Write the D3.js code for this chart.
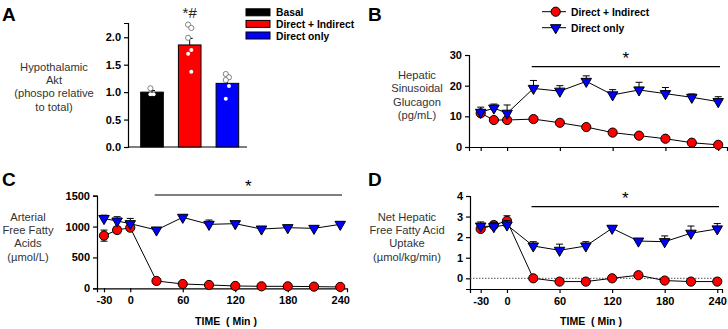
<!DOCTYPE html>
<html lang="en">
<head>
<meta charset="UTF-8">
<title>Hypothalamic Akt and hepatic FFA</title>
<script src="https://d3js.org/d3.v7.min.js"></script>
<style>
  body { margin: 0; background: #fff; }
  svg { display: block; font-family: "Liberation Sans", Arial, sans-serif; }
  .tick text { font-weight: bold; font-size: 11px; fill: #000; }
  .ylab { font-size: 11.2px; fill: #333; }
  .panel { font-weight: bold; font-size: 19px; }
</style>
</head>
<body>
<svg width="728" height="329"></svg>
<script>
// ---- data ----
const times = [-30, -15, 0, 30, 60, 90, 120, 150, 180, 210, 240];
const xTicks = [-30, 0, 60, 120, 180, 240];

// A: hypothalamic Akt
const groups = ["Basal", "Direct + Indirect", "Direct only"];
const groupColors = ["#000000", "#ff0000", "#0000ff"];
const aktMean = [1.0, 1.86, 1.16];
const aktSem = [0.03, 0.12, 0.08];
const aktPoints = [
  [1.07, 0.96, 0.96],
  [2.23, 2.17, 1.99, 1.77, 1.70, 1.37],
  [1.33, 1.27, 1.22, 1.11, 0.88]
];

// B: hepatic sinusoidal glucagon (pg/mL)
const glucRed = [11.0, 8.8, 8.8, 9.1, 7.9, 6.5, 4.7, 3.7, 2.7, 1.4, 0.7];
const glucRedSem = [1.0, 0.8, 0.8, 0.6, 0.5, 0.5, 0.6, 0.5, 0.5, 0.4, 0.3];
const glucBlue = [11.3, 12.7, 11.0, 19.1, 18.2, 21.4, 17.0, 18.6, 17.4, 16.2, 14.8];
const glucBlueSem = [1.7, 1.3, 2.7, 2.6, 1.8, 1.8, 1.7, 2.5, 2.0, 1.1, 1.6];

// C: arterial FFA (umol/L)
const ffaRed = [853, 944, 982, 119, 70, 54, 38, 32, 32, 27, 22];
const ffaRedSem = [90, 50, 45, 20, 12, 10, 8, 8, 8, 6, 6];
const ffaBlue = [1130, 1090, 1047, 944, 1150, 1036, 1047, 960, 982, 971, 1036];
const ffaBlueSem = [55, 70, 85, 35, 30, 70, 35, 30, 30, 25, 30];

// D: net hepatic FFA uptake (umol/kg/min)
const uptRed = [2.40, 2.59, 2.79, 0.0, -0.16, -0.16, 0.0, 0.15, -0.11, -0.16, -0.16];
const uptRedSem = [0.1, 0.15, 0.25, 0.05, 0.05, 0.05, 0.05, 0.06, 0.05, 0.05, 0.05];
const uptBlue = [2.54, 2.51, 2.59, 1.57, 1.36, 1.57, 2.43, 1.81, 1.78, 2.19, 2.40];
const uptBlueSem = [0.2, 0.21, 0.22, 0.21, 0.3, 0.21, 0.1, 0.1, 0.28, 0.35, 0.26];

const svg = d3.select("svg");
const intFmt = d => String(d); // plain hyphen for negatives

function drawAxes(g, x, y, yTicks, yFmt, showXLabels) {
  const xa = g.append("g").attr("transform", `translate(0,${y.range()[0]})`)
    .call(d3.axisBottom(x).tickValues(xTicks).tickSize(4).tickPadding(4)
      .tickFormat(showXLabels ? intFmt : ""));
  const ya = g.append("g").attr("transform", `translate(${x.range()[0]},0)`)
    .call(d3.axisLeft(y).tickValues(yTicks).tickSize(4).tickPadding(3).tickFormat(yFmt));
  [xa, ya].forEach(a => {
    a.select(".domain").attr("stroke", "#000").attr("stroke-width", 1.2);
    a.selectAll(".tick line").attr("stroke", "#000").attr("stroke-width", 1.2);
  });
}

function ylabel(lines, cx, cy) {
  const t = svg.append("text").attr("class", "ylab").attr("text-anchor", "middle");
  lines.forEach((s, i) => {
    t.append("tspan").attr("x", cx).attr("y", cy + i * 13.4).text(s);
  });
}

function series(g, x, y, vals, sems, kind, errBoth) {
  // error bars
  const eb = g.append("g").attr("stroke", "#000").attr("stroke-width", 1);
  times.forEach((t, i) => {
    const top = y(vals[i] + sems[i]);
    const bot = errBoth ? y(vals[i] - sems[i]) : y(vals[i]);
    eb.append("line").attr("x1", x(t)).attr("x2", x(t)).attr("y1", top).attr("y2", bot);
    eb.append("line").attr("x1", x(t) - 3.5).attr("x2", x(t) + 3.5).attr("y1", top).attr("y2", top);
    if (errBoth) eb.append("line").attr("x1", x(t) - 3.5).attr("x2", x(t) + 3.5).attr("y1", bot).attr("y2", bot);
  });
  g.append("path")
    .attr("d", d3.line().x((d, i) => x(times[i])).y(d => y(d))(vals))
    .attr("fill", "none").attr("stroke", "#000").attr("stroke-width", 1);
  if (kind === "circle") {
    g.selectAll(null).data(vals).join("circle")
      .attr("cx", (d, i) => x(times[i])).attr("cy", d => y(d)).attr("r", 4.6)
      .attr("fill", "#ff0000").attr("stroke", "#000").attr("stroke-width", 1);
  } else {
    const tri = d3.symbol().type(d3.symbolTriangle).size(48);
    g.selectAll(null).data(vals).join("path")
      .attr("d", tri)
      .attr("transform", (d, i) => `translate(${x(times[i])},${y(d)}) rotate(180)`)
      .attr("fill", "#0000ff").attr("stroke", "#000").attr("stroke-width", 1);
  }
}

function sigBar(g, x, yPix) {
  g.append("line").attr("x1", x(28)).attr("x2", x(242)).attr("y1", yPix).attr("y2", yPix)
    .attr("stroke", "#000").attr("stroke-width", 1.2);
  g.append("text").attr("x", (x(28) + x(242)) / 2).attr("y", yPix - 3)
    .attr("text-anchor", "middle").attr("font-size", 17).text("*");
}

// ---- Panel A ----
{
  const g = svg.append("g");
  const y = d3.scaleLinear().domain([0, 2.26]).range([147, 23]);
  const x = d3.scaleBand().domain(groups).range([128, 251.4]).paddingInner(0.4).paddingOuter(0.337);
  const ya = g.append("g").attr("transform", "translate(128,0)")
    .call(d3.axisLeft(y).tickValues([0, 0.5, 1, 1.5, 2]).tickSize(4).tickPadding(3).tickFormat(d3.format(".1f")));
  ya.select(".domain").attr("stroke", "#000").attr("stroke-width", 1.2);
  ya.selectAll(".tick line").attr("stroke", "#000").attr("stroke-width", 1.2);
  g.append("line").attr("x1", 128).attr("x2", 247).attr("y1", 147).attr("y2", 147)
    .attr("stroke", "#000").attr("stroke-width", 1.2);
  groups.forEach((k, i) => {
    const cx = x(k) + x.bandwidth() / 2;
    g.append("line").attr("x1", cx).attr("x2", cx).attr("y1", y(aktMean[i])).attr("y2", y(aktMean[i] + aktSem[i]))
      .attr("stroke", "#000");
    g.append("line").attr("x1", cx - 3).attr("x2", cx + 3)
      .attr("y1", y(aktMean[i] + aktSem[i])).attr("y2", y(aktMean[i] + aktSem[i])).attr("stroke", "#000");
    g.append("rect").attr("x", x(k)).attr("width", x.bandwidth())
      .attr("y", y(aktMean[i])).attr("height", y(0) - y(aktMean[i]))
      .attr("fill", groupColors[i]).attr("stroke", "#000").attr("stroke-width", 1);
    aktPoints[i].forEach((v, j) => {
      const above = v > aktMean[i];
      const off = (j % 2 === 0 ? -1.6 : 1.6);
      g.append("circle").attr("cx", cx + off).attr("cy", y(v)).attr("r", above ? 2.6 : 2)
        .attr("fill", "#fff").attr("stroke", above ? "#666" : "none").attr("stroke-width", 0.8);
    });
  });
  g.append("text").attr("x", x(groups[1]) + x.bandwidth() / 2).attr("y", 18)
    .attr("text-anchor", "middle").attr("font-size", 15).attr("fill", "#222").text("*#");
  // legend
  groups.forEach((k, i) => {
    const ly = 12.3 + i * 11.6;
    g.append("rect").attr("x", 246).attr("y", ly - 3.5).attr("width", 24).attr("height", 7)
      .attr("fill", groupColors[i]).attr("stroke", "#000");
    g.append("text").attr("x", 276).attr("y", ly + 4).attr("font-size", 10.3)
      .attr("font-weight", "bold").text(k);
  });
  ylabel(["Hypothalamic", "Akt", "(phospo relative", "to total)"], 54, 70.5);
  svg.append("text").attr("class", "panel").attr("x", 2).attr("y", 21).text("A");
}

// ---- Panel B ----
{
  const g = svg.append("g");
  const x = d3.scaleLinear().domain([-43.3, 250]).range([469, 727]);
  const y = d3.scaleLinear().domain([0, 30]).range([147, 55]);
  drawAxes(g, x, y, [0, 10, 20, 30], intFmt, false);
  sigBar(g, x, 66.7);
  series(g, x, y, glucRed, glucRedSem, "circle", true);
  series(g, x, y, glucBlue, glucBlueSem, "tri", false);
  // legend
  const leg = [["Direct + Indirect", "circle"], ["Direct only", "tri"]];
  leg.forEach(([name, kind], i) => {
    const ly = 11.7 + i * 16;
    g.append("line").attr("x1", 542).attr("x2", 566).attr("y1", ly).attr("y2", ly).attr("stroke", "#000");
    if (kind === "circle") {
      g.append("circle").attr("cx", 555.7).attr("cy", ly).attr("r", 4.6)
        .attr("fill", "#ff0000").attr("stroke", "#000");
    } else {
      g.append("path").attr("d", d3.symbol().type(d3.symbolTriangle).size(48))
        .attr("transform", `translate(555.7,${ly}) rotate(180)`)
        .attr("fill", "#0000ff").attr("stroke", "#000");
    }
    g.append("text").attr("x", 571).attr("y", ly + 4).attr("font-size", 10.3)
      .attr("font-weight", "bold").text(name);
  });
  ylabel(["Hepatic", "Sinusoidal", "Glucagon", "(pg/mL)"], 417, 79);
  svg.append("text").attr("class", "panel").attr("x", 368).attr("y", 21).text("B");
}

// ---- Panel C ----
{
  const g = svg.append("g");
  const x = d3.scaleLinear().domain([-38, 247.7]).range([97, 347]);
  const y = d3.scaleLinear().domain([0, 1500]).range([288.3, 195.7]);
  drawAxes(g, x, y, [0, 500, 1000, 1500], intFmt, true);
  sigBar(g, x, 195);
  series(g, x, y, ffaRed, ffaRedSem, "circle", true);
  series(g, x, y, ffaBlue, ffaBlueSem, "tri", false);
  ylabel(["Arterial", "Free Fatty", "Acids", "(\u00b5mol/L)"], 28, 220.5);
  g.append("text").attr("x", 226).attr("y", 325).attr("text-anchor", "middle")
    .attr("font-size", 10.5).attr("font-weight", "bold").attr("xml:space", "preserve").text("TIME  ( Min )");
  svg.append("text").attr("class", "panel").attr("x", 2).attr("y", 186).text("C");
}

// ---- Panel D ----
{
  const g = svg.append("g");
  const x = d3.scaleLinear().domain([-42.2, 245.4]).range([470, 722]);
  const y = d3.scaleLinear().domain([-0.52, 4]).range([289, 196]);
  drawAxes(g, x, y, [0, 1, 2, 3, 4], intFmt, true);
  g.append("line").attr("x1", x.range()[0]).attr("x2", x.range()[1]).attr("y1", y(0)).attr("y2", y(0))
    .attr("stroke", "#555").attr("stroke-width", 1).attr("stroke-dasharray", "1.5,1.5");
  sigBar(g, x, 206.7);
  series(g, x, y, uptRed, uptRedSem, "circle", true);
  series(g, x, y, uptBlue, uptBlueSem, "tri", false);
  ylabel(["Net Hepatic", "Free Fatty Acid", "Uptake", "(\u00b5mol/kg/min)"], 407, 220.5);
  g.append("text").attr("x", 591).attr("y", 325).attr("text-anchor", "middle")
    .attr("font-size", 10.5).attr("font-weight", "bold").attr("xml:space", "preserve").text("TIME  ( Min )");
  svg.append("text").attr("class", "panel").attr("x", 368).attr("y", 186).text("D");
}
</script>
</body>
</html>
